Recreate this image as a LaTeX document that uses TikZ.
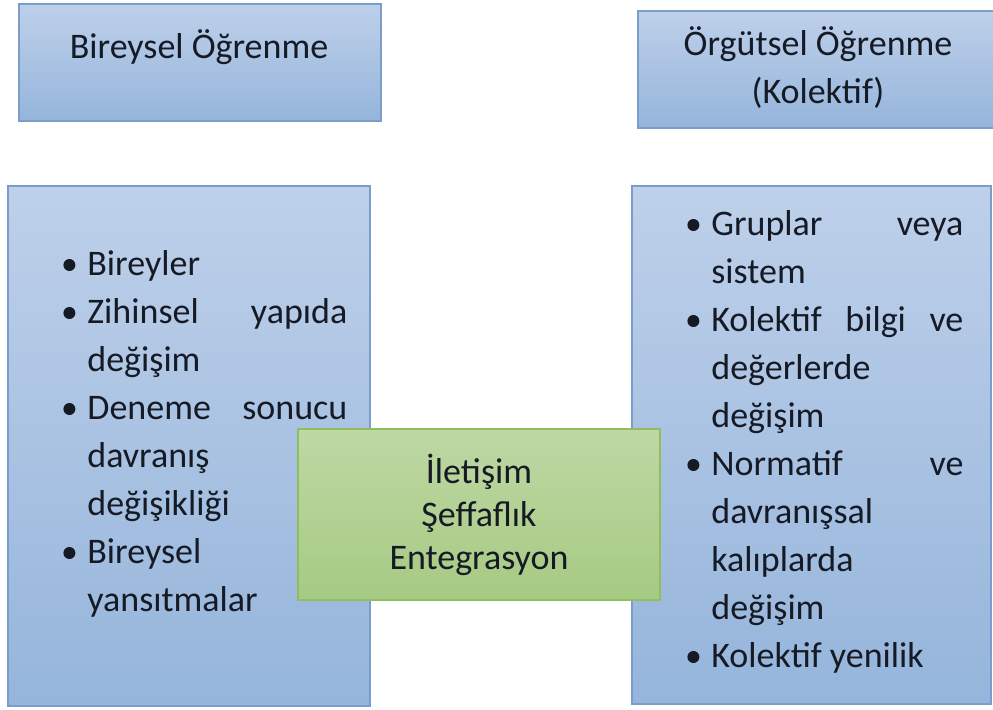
\documentclass[tikz,border=0pt]{standalone}
\usepackage{fontspec}
\setmainfont{Carlito}
\tolerance=10000
\hyphenpenalty=10000
\newcommand{\madde}{\par\noindent\hangindent=12pt\hangafter=1\makebox[12pt][l]{\raisebox{2pt}{\tikz\fill (0,0) circle (3pt);}}}
\definecolor{maviust}{RGB}{190,208,234}
\definecolor{mavialt}{RGB}{149,181,219}
\definecolor{maviken}{RGB}{122,157,206}
\definecolor{yesilust}{RGB}{190,216,164}
\definecolor{yesilalt}{RGB}{166,202,130}
\definecolor{yesilken}{RGB}{145,188,95}
\definecolor{yazirenk}{RGB}{22,26,36}
\begin{document}
\begin{tikzpicture}[x=0.5pt,y=-0.5pt,
	mavikutu/.style={draw=maviken,line width=1pt,top color=maviust,bottom color=mavialt,inner sep=0pt},
	yesilkutu/.style={draw=yesilken,line width=1pt,top color=yesilust,bottom color=yesilalt,inner sep=0pt},
	yazi/.style={font=\fontsize{18}{24}\selectfont,text=yazirenk,inner sep=0pt}]
	
	\useasboundingbox (0,0) rectangle (993,709);
	
	\node[mavikutu,minimum width=181pt,minimum height=58.5pt] (bireysel) at (200,62.5) {};
	\node[yazi,anchor=base] (bireyselyazi) at (199,58) {Bireysel Öğrenme};
	
	\node[mavikutu,minimum width=179pt,minimum height=58.5pt] (orgutsel) at (817,69.5) {};
	\node[yazi,anchor=base,align=center] (orgutselyazi) at (818,103) {Örgütsel Öğrenme\\(Kolektif)};
	
	\node[mavikutu,minimum width=181pt,minimum height=260pt] (bireyselkutu) at (189,446) {};
	\node[yazi,anchor=base west] (bireysellist) at (63,275) {\parbox[t]{142pt}{%
		\madde Bireyler
		\madde Zihinsel yapıda\linebreak değişim
		\madde Deneme sonucu\linebreak davranış\\ değişikliği
		\madde Bireysel\\ yansıtmalar}};
	
	\node[mavikutu,minimum width=179.5pt,minimum height=259pt] (orgutselkutu) at (811.5,445) {};
	\node[yazi,anchor=base west] (orgutsellist) at (687,235) {\parbox[t]{138pt}{%
		\madde Gruplar veya\linebreak sistem
		\madde Kolektif bilgi ve\linebreak değerlerde\\ değişim
		\madde Normatif ve\linebreak davranışsal\\ kalıplarda\\ değişim
		\madde Kolektif yenilik}};
	
	\node[yesilkutu,minimum width=181pt,minimum height=85.5pt] (ortak) at (479,514.5) {};
	\node[yazi,anchor=base,align=center,font=\fontsize{18}{21.5}\selectfont] (ortakyazi) at (479,569) {İletişim\\Şeffaflık\\Entegrasyon};
	
\end{tikzpicture}
\end{document}
